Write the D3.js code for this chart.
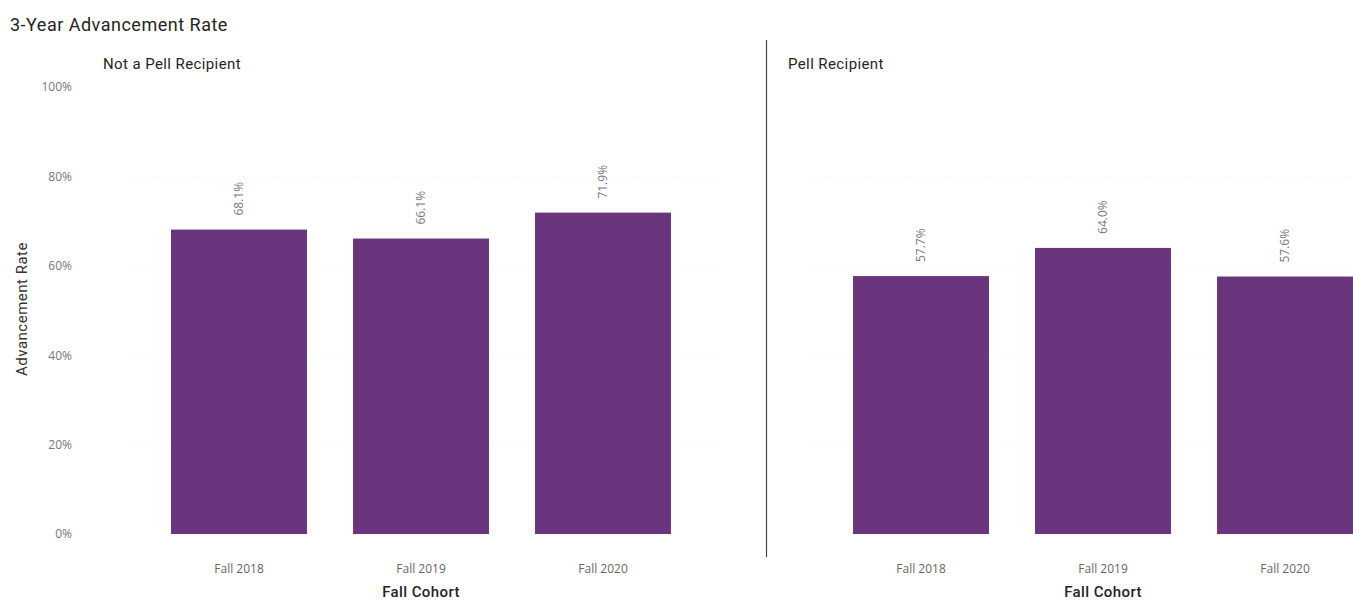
<!DOCTYPE html>
<html>
<head>
<meta charset="utf-8">
<script src="https://cdn.jsdelivr.net/npm/d3@7"></script>
<style>
  html, body { margin: 0; padding: 0; background: #fff; }
  svg { display: block; }
  .tick text { font-family: "Open Sans", sans-serif; }
</style>
</head>
<body>
<svg id="chart" width="1353" height="601"></svg>
<script>
// Cohorts along the x axis
const cohorts = ["Fall 2018", "Fall 2019", "Fall 2020"];
// Panel groups
const groups = ["Not a Pell Recipient", "Pell Recipient"];
// Advancement rate (%) per cohort, one array per group
const notPellRates = [68.1, 66.1, 71.9];
const pellRates = [57.7, 64.0, 57.6];
// Y axis ticks (%)
const yTicks = [0, 20, 40, 60, 80, 100];

const seriesByGroup = [notPellRates, pellRates];

const svg = d3.select("#chart");
const barColor = "#6a357d";
const headFont = "Roboto, sans-serif";

// Shared vertical scale
const y = d3.scaleLinear().domain([0, 100]).range([534, 87]);

// Chart title
svg.append("text")
  .attr("x", 10).attr("y", 31)
  .attr("font-family", headFont)
  .attr("font-size", 18)
  .attr("font-weight", 400)
  .attr("letter-spacing", 0.5)
  .attr("fill", "#252423")
  .text("3-Year Advancement Rate");

// Y axis title
svg.append("text")
  .attr("transform", "translate(27,309) rotate(-90)")
  .attr("text-anchor", "middle")
  .attr("font-family", headFont)
  .attr("font-size", 15)
  .attr("font-weight", 400)
  .attr("letter-spacing", 0.5)
  .attr("fill", "#333")
  .text("Advancement Rate");

// Y axis tick labels (left panel only)
const yAxis = d3.axisLeft(y).tickValues(yTicks).tickFormat(d => d + "%").tickSize(0).tickPadding(0);
const yg = svg.append("g").attr("transform", "translate(72,0)").call(yAxis);
yg.select(".domain").remove();
yg.selectAll("text")
  .attr("font-size", 12)
  .attr("fill", "#777");

// Panel x ranges
const panelRanges = [[148, 694], [830, 1376]];

groups.forEach((g, gi) => {
  const x = d3.scaleBand()
    .domain(cohorts)
    .range(panelRanges[gi])
    .paddingInner(0.253)
    .paddingOuter(0.1265);

  const panel = svg.append("g");

  // faint dotted gridlines
  panel.selectAll("line.grid")
    .data(yTicks.filter(t => t > 0 && t < 100))
    .join("line")
    .attr("class", "grid")
    .attr("x1", panelRanges[gi][0] - 20)
    .attr("x2", Math.min(panelRanges[gi][1] + 20, 1353))
    .attr("y1", d => y(d))
    .attr("y2", d => y(d))
    .attr("stroke", "#f0f0f0")
    .attr("stroke-width", 1)
    .attr("stroke-dasharray", "1,4");

  // panel title
  panel.append("text")
    .attr("x", gi === 0 ? 103 : 788)
    .attr("y", 69)
    .attr("font-family", headFont)
    .attr("font-size", 15)
    .attr("font-weight", 400)
    .attr("letter-spacing", 0.4)
    .attr("fill", "#252423")
    .text(g);

  const vals = seriesByGroup[gi];

  // bars
  panel.selectAll("rect.bar")
    .data(cohorts)
    .join("rect")
    .attr("class", "bar")
    .attr("x", d => x(d))
    .attr("width", x.bandwidth())
    .attr("y", (d, i) => y(vals[i]))
    .attr("height", (d, i) => y(0) - y(vals[i]))
    .attr("fill", barColor);

  // rotated value labels
  panel.selectAll("text.val")
    .data(cohorts)
    .join("text")
    .attr("class", "val")
    .attr("transform", (d, i) => `translate(${x(d) + x.bandwidth() / 2 + 4},${y(vals[i]) - 14}) rotate(-90)`)
    .attr("font-family", "Open Sans, sans-serif")
    .attr("font-size", 12)
    .attr("fill", "#777")
    .text((d, i) => vals[i].toFixed(1) + "%");

  // x axis tick labels
  const xAxis = d3.axisBottom(x).tickSize(0).tickPadding(0);
  const xg = panel.append("g").attr("transform", "translate(0,564)").call(xAxis);
  xg.select(".domain").remove();
  xg.selectAll("text")
    .attr("font-size", 12)
    .attr("fill", "#666");

  // x axis title
  const mid = x("Fall 2019") + x.bandwidth() / 2;
  panel.append("text")
    .attr("x", mid)
    .attr("y", 597)
    .attr("text-anchor", "middle")
    .attr("font-family", headFont)
    .attr("font-size", 15)
    .attr("font-weight", 500)
    .attr("letter-spacing", 0.4)
    .attr("fill", "#252423")
    .text("Fall Cohort");
});

// divider between panels
svg.append("line")
  .attr("x1", 766.5).attr("x2", 766.5)
  .attr("y1", 40).attr("y2", 557)
  .attr("stroke", "#444")
  .attr("stroke-width", 1.2);
</script>
</body>
</html>
